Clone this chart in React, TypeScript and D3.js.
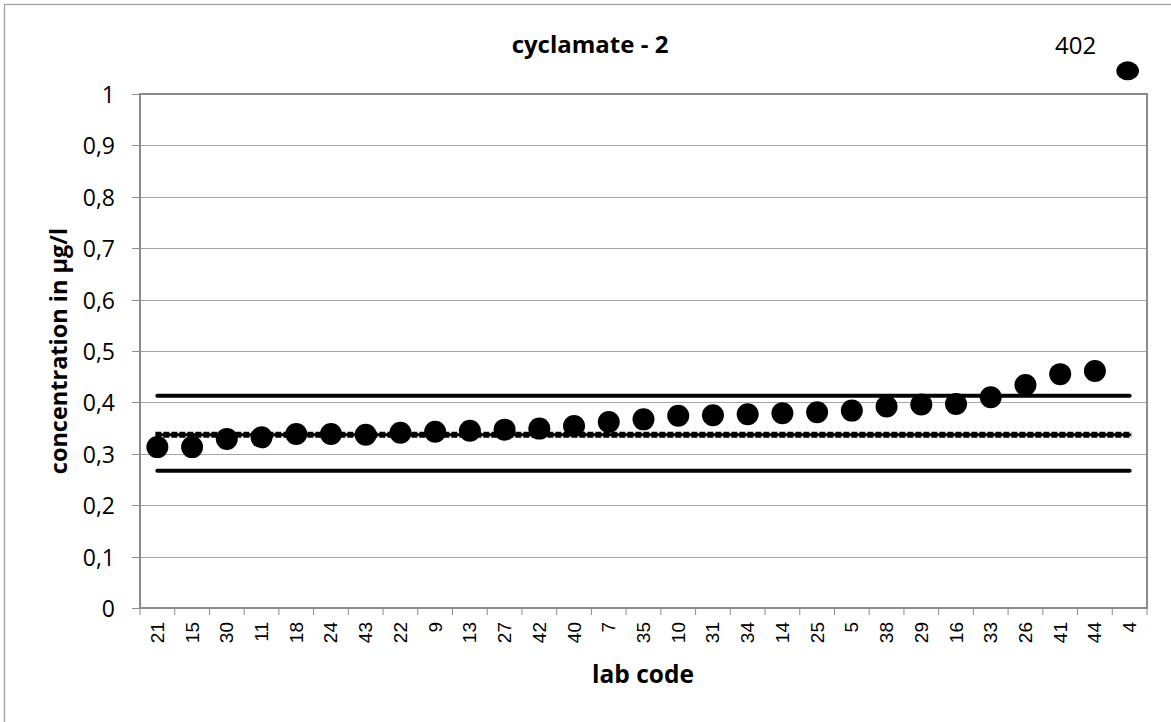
import React from "react";
import * as d3 from "d3";

const labCodes = ["21","15","30","11","18","24","43","22","9","13","27","42","40","7","35","10","31","34","14","25","5","38","29","16","33","26","41","44","4"];
const concentrations = [0.313,0.313,0.329,0.332,0.3385,0.3385,0.337,0.341,0.343,0.345,0.347,0.349,0.354,0.362,0.367,0.374,0.375,0.377,0.379,0.381,0.384,0.392,0.396,0.397,0.41,0.434,0.455,0.461,402];
const yTicks = [0,0.1,0.2,0.3,0.4,0.5,0.6,0.7,0.8,0.9,1];
const assignedValue = 0.337;
const upperLimit = 0.413;
const lowerLimit = 0.267;
const offScaleShownAt = 1.045;
const titleText = "cyclamate - 2";
const xTitle = "lab code";
const yTitle = "concentration in µg/l";

export default function App() {
  const W = 1171, H = 722;
  const left = 140, right = 1147, top = 94, bottom = 608;
  const x = d3.scaleBand<string>().domain(labCodes).range([left, right]).padding(0);
  const y = d3.scaleLinear().domain([0, 1]).range([bottom, top]);
  const cx = (c: string) => (x(c) as number) + x.bandwidth() / 2;
  const fmt = (v: number) => d3.format(".1~f")(v).replace(".", ",");
  const first = cx(labCodes[0]);
  const last = cx(labCodes[labCodes.length - 1]);
  const font = "'Open Sans', 'Noto Sans', sans-serif";
  const grid = "#a6a6a6";
  const axis = "#8c8c8c";

  return (
    <svg width={W} height={H} style={{ position: "absolute", left: 0, top: 0, background: "#fff" }}>
      <rect x={4.5} y={4.5} width={1190} height={740} fill="#fff" stroke="#a0a0a0" strokeWidth={1.3} />
      {yTicks.map((t) => (
        <g key={"g" + t}>
          {t > 0 && t < 1 && (
            <line x1={left} x2={right} y1={Math.round(y(t)) + 0.5} y2={Math.round(y(t)) + 0.5} stroke={grid} strokeWidth={1} />
          )}
          <line x1={132} x2={left} y1={Math.round(y(t)) + 0.5} y2={Math.round(y(t)) + 0.5} stroke={axis} strokeWidth={1} />
          <text x={115} y={y(t)} textAnchor="end" dominantBaseline="central" fontFamily={font} fontSize={23} fill="#000">
            {fmt(t)}
          </text>
        </g>
      ))}
      <rect x={left} y={top} width={right - left} height={bottom - top} fill="none" stroke={axis} strokeWidth={2} />
      {labCodes.map((c, i) => (
        <line key={"t" + c + i} x1={(x(c) as number)} x2={(x(c) as number)} y1={bottom} y2={bottom + 7} stroke={axis} strokeWidth={1} />
      ))}
      <line x1={right} x2={right} y1={bottom} y2={bottom + 7} stroke={axis} strokeWidth={1} />
      {labCodes.map((c, i) => (
        <text key={"l" + c + i} transform={`translate(${cx(c)},${622}) rotate(-90)`} textAnchor="end" dominantBaseline="central"
          fontFamily="'Liberation Sans', Arial, sans-serif" fontSize={19} fill="#000">
          {c}
        </text>
      ))}
      <line x1={first} x2={last} y1={y(upperLimit)} y2={y(upperLimit)} stroke="#000" strokeWidth={4} strokeLinecap="round" />
      <line x1={first} x2={last} y1={y(lowerLimit)} y2={y(lowerLimit)} stroke="#000" strokeWidth={4} strokeLinecap="round" />
      <line x1={first} x2={last} y1={y(assignedValue)} y2={y(assignedValue)} stroke="#000" strokeWidth={3} strokeLinecap="round" />
      <line x1={first - 2} x2={last + 2} y1={y(assignedValue)} y2={y(assignedValue)} stroke="#000" strokeWidth={6} strokeDasharray="6 2" />
      {labCodes.map((c, i) => {
        const v = concentrations[i];
        const off = v > 1;
        const yy = y(off ? offScaleShownAt : v);
        return (
          <g key={"p" + c + i}>
            {off ? (
              <ellipse cx={cx(c) - 2} cy={yy} rx={11.3} ry={9.5} fill="#000" />
            ) : (
              <circle cx={cx(c)} cy={yy} r={11} fill="#000" />
            )}
            {off && (
              <text x={cx(c) - 54} y={yy - 26} textAnchor="middle" dominantBaseline="central" fontFamily={font} fontSize={24} fill="#000">
                {String(v)}
              </text>
            )}
          </g>
        );
      })}
      <text x={590} y={43} textAnchor="middle" dominantBaseline="central" fontFamily={font} fontWeight="bold" fontSize={24} fill="#000">
        {titleText}
      </text>
      <text x={643} y={673} textAnchor="middle" dominantBaseline="central" fontFamily={font} fontWeight="bold" fontSize={24.5} fill="#000">
        {xTitle}
      </text>
      <text transform={`translate(${58},${(top + bottom) / 2}) rotate(-90)`} textAnchor="middle" dominantBaseline="central"
        fontFamily={font} fontWeight="bold" fontSize={23.5} fill="#000">
        {yTitle}
      </text>
    </svg>
  );
}
